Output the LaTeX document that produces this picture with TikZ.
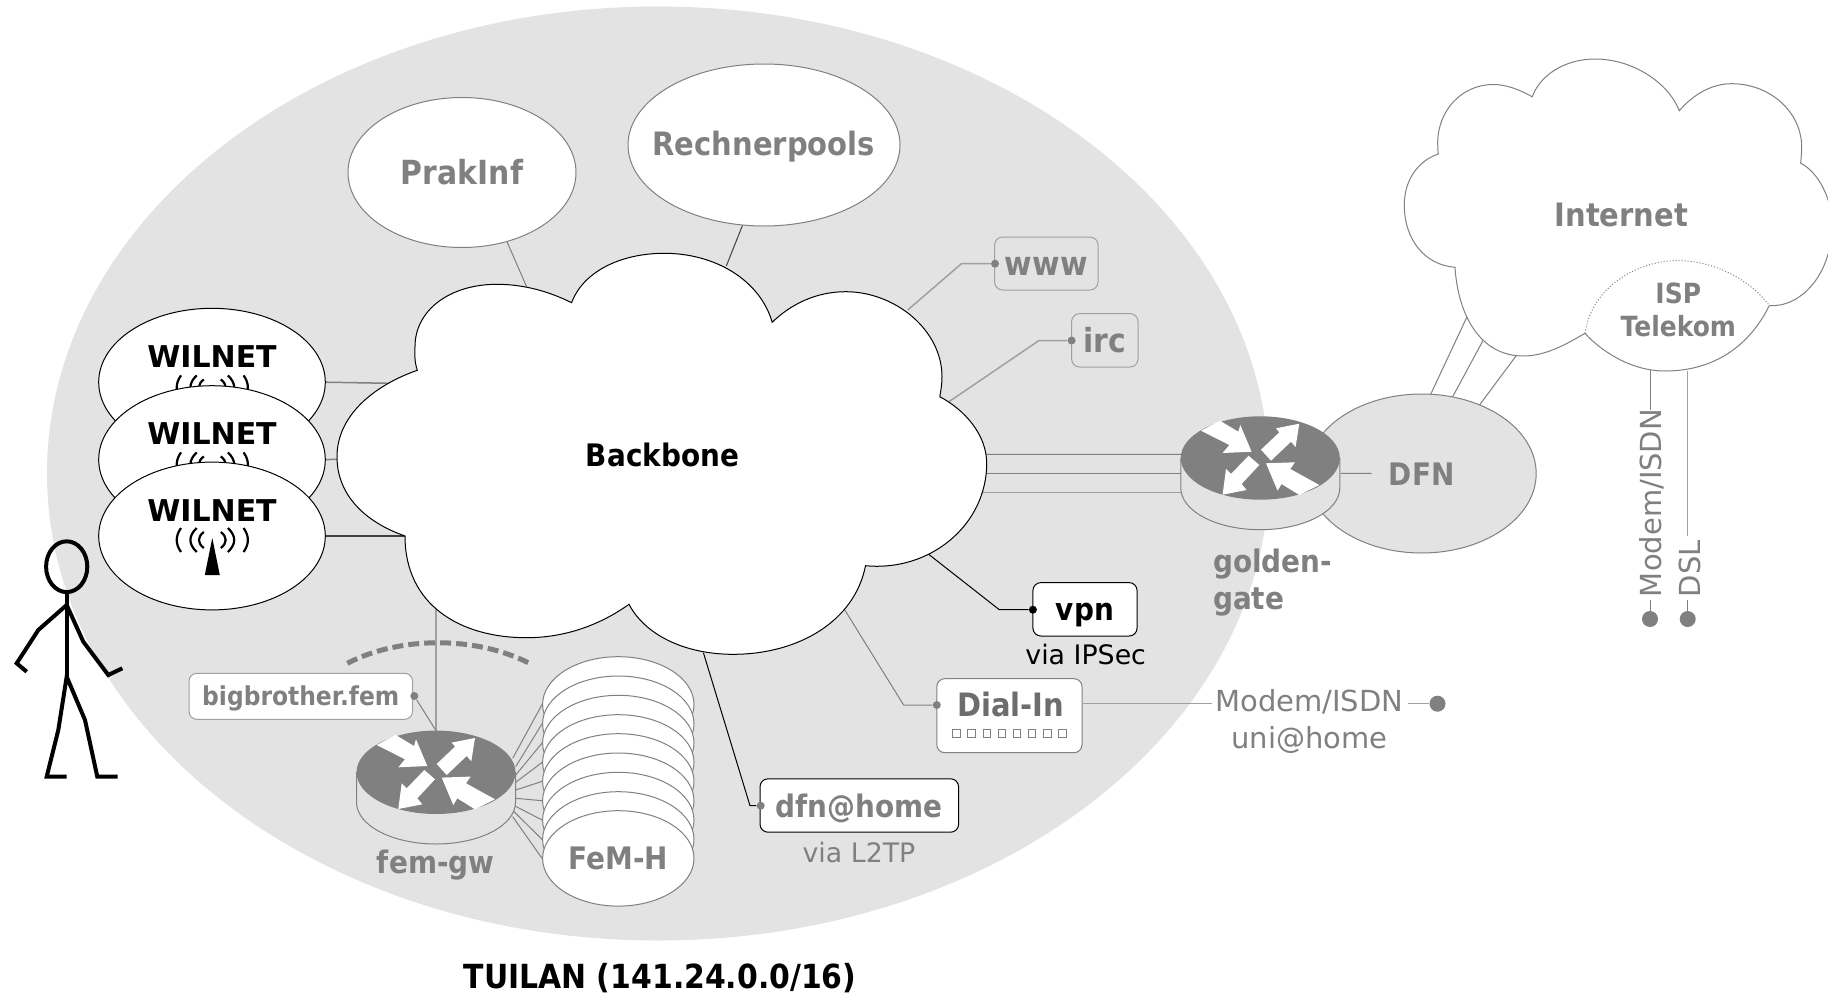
\documentclass[tikz,border=0pt]{standalone}
\usepackage{fontspec}
\setmainfont{DejaVu Sans}
\newfontfamily\cbf[FakeStretch=0.9]{DejaVu Sans Bold}
\usetikzlibrary{shapes.geometric,calc}
\definecolor{bgc}{HTML}{E3E3E3}
\definecolor{gr}{HTML}{808080}
\definecolor{lgr}{HTML}{A0A0A0}
\pgfdeclarelayer{backdrop}
\pgfdeclarelayer{lines}
\pgfsetlayers{backdrop,lines,main}
\newcommand{\fsz}[1]{\fontsize{#1pt}{#1pt}\selectfont}
\tikzset{
  x=.5pt,y=-.5pt,
  capbox/.style={inner sep=0pt,text depth=0pt,text height=#1,align=center},
  bt/.style={font=\cbf\fsz{#1},text=gr,inner sep=0pt,anchor=base},
  bk/.style={font=\cbf\fsz{#1},text=black,inner sep=0pt,anchor=base},
  wil/.style={font=\bfseries\fsz{15},text=black,inner sep=0pt,anchor=base},
  rt/.style={font=\fsz{#1},text=gr,inner sep=0pt,anchor=base},
  rt/.default=14.5,
  ell/.style={ellipse,inner sep=0pt,fill=white,draw=gr,line width=.5pt},
  bellip/.style={ellipse,inner sep=0pt,fill=white,draw=black,line width=.5pt},
  sbox/.style={rectangle,rounded corners=4pt,inner sep=0pt,fill=#1,draw=gr,line width=.5pt},
  conn/.style={draw=gr,line width=.5pt},
  lconn/.style={draw=lgr,line width=.75pt},
  kconn/.style={draw=black,line width=.5pt},
  dot/.style={circle,inner sep=0pt,minimum size=#1,fill=gr},
  kdot/.style={circle,inner sep=0pt,minimum size=#1,fill=black},
  pics/router/.style={code={
    \path[fill=bgc,draw=gr,line width=.5pt] (-79.5,0) -- (-79.5,30) .. controls (-79.5,53) and (-44,71.7) .. (0,71.7) .. controls (44,71.7) and (79.5,53) .. (79.5,30) -- (79.5,0) -- cycle;
    \fill[gr] (0,0) ellipse [x radius=39.75pt,y radius=20.85pt];
    \fill[white] (-59.3,-27.3) -- (-40.3,-37.3) -- (-22,-26.3) -- (-20,-33) -- (-8.7,-6.3) -- (-37.7,-5) -- (-31,-13) -- cycle;
    \fill[white] (0.7,-8.3) -- (19,-25.7) -- (15.7,-29.7) -- (39,-34.3) -- (35.3,-11) -- (30.7,-16.3) -- (10.7,2.7) -- cycle;
    \fill[white] (-1,7) -- (-11.7,-2.3) -- (-29.3,16) -- (-34.3,11) -- (-37.7,36.7) -- (-13.7,32) -- (-18.7,26) -- cycle;
    \fill[white] (59,27) -- (39,37) -- (21.3,26) -- (17.3,32.7) -- (5.7,5.3) -- (34.7,4.3) -- (30,11) -- cycle;
  }},
  pics/antenna/.style={code={
    \draw[black,line width=1.1pt] (-31.3,-12) .. controls (-37,-4) and (-37,4) .. (-31.3,12);
    \draw[black,line width=1.1pt] (-15.6,-12) .. controls (-24,-4) and (-24,4) .. (-15.6,12);
    \draw[black,line width=1.1pt] (-8.5,-8) .. controls (-15,-3) and (-15,3) .. (-8.5,8);
    \draw[black,line width=1.1pt] (31.3,-12) .. controls (37,-4) and (37,4) .. (31.3,12);
    \draw[black,line width=1.1pt] (15.6,-12) .. controls (24,-4) and (24,4) .. (15.6,12);
    \draw[black,line width=1.1pt] (8.5,-8) .. controls (15,-3) and (15,3) .. (8.5,8);
    \fill[black] (0,-2) -- (7.5,35) -- (-7.5,35) -- cycle;
  }},
}
\begin{document}
\begin{tikzpicture}
\useasboundingbox (0,0) rectangle (1828,996);
\clip (0,0) rectangle (1828,996);

% named connector ends on the clouds
\coordinate (bb-prak) at (526.6,286.7);
\coordinate (bb-rech) at (726.3,266);
\coordinate (bb-www) at (907.7,310);
\coordinate (bb-irc) at (949,401.7);
\coordinate (bb-w1) at (389,383.3);
\coordinate (bb-w2) at (337,459.3);
\coordinate (bb-w3) at (405,536);
\coordinate (bb-g1) at (986,454.3);
\coordinate (bb-g2) at (986,473.3);
\coordinate (bb-g3) at (983,492.5);
\coordinate (bb-vpn) at (927,553);
\coordinate (bb-dial) at (844.8,610);
\coordinate (bb-dfn) at (703.4,652.7);
\coordinate (bb-fem) at (436,603);
\coordinate (in-1) at (1467.3,316.2);
\coordinate (in-2) at (1483.3,340);
\coordinate (in-3) at (1516,356);
\coordinate (dfn-1) at (1430,395.7);
\coordinate (dfn-2) at (1451.7,398.5);
\coordinate (dfn-3) at (1479,405.7);
\coordinate (femgw) at (436,772.3);
\coordinate (gold) at (1260.3,458);

\begin{pgfonlayer}{backdrop}
\fill[white] (0,0) rectangle (1828,996);
\fill[bgc] (658,473.5) ellipse [x radius=305.5pt,y radius=233.5pt];
\end{pgfonlayer}

% Internet cloud
\path[fill=white,draw=gr,line width=.5pt]
 (1438.3,154) .. controls (1437.8,150) and (1437.7,147) .. (1437.7,143.3)
 .. controls (1437.7,110) and (1462,84.5) .. (1493.3,84.5)
 .. controls (1507,84.5) and (1520,90) .. (1532.3,96.8)
 .. controls (1540,75) and (1565,59) .. (1595,59)
 .. controls (1632,59) and (1668,82) .. (1679.3,110.7)
 .. controls (1692,96) and (1710,83.7) .. (1731.7,83.7)
 .. controls (1770,83.7) and (1801.7,112) .. (1801.7,147.3)
 .. controls (1801.7,153) and (1801,158) .. (1800.7,163.2)
 .. controls (1818,172) and (1832,198) .. (1832,225)
 .. controls (1832,275) and (1800,308) .. (1769.3,305.5)
 -- (1585,333.3)
 .. controls (1565,345) and (1545,356) .. (1523.3,356)
 .. controls (1480,356) and (1458,315) .. (1455,267.3)
 .. controls (1425,265) and (1404.3,240) .. (1404.3,205)
 .. controls (1404.3,178) and (1420,160) .. (1438.3,154) -- cycle;
\node[bt=16.1] (internet) at (1621.3,226) {Internet};

% ISP
\fill[white] (1585,333.3) .. controls (1592,285) and (1640,260.6) .. (1677,260.6) .. controls (1715,260.6) and (1750,280) .. (1769.3,305.5) .. controls (1750,345) and (1715,371) .. (1665,371) .. controls (1630,371) and (1600,350) .. (1585,333.3) -- cycle;
\draw[gr,line width=.5pt,densely dotted] (1585,333.3) .. controls (1592,285) and (1640,260.6) .. (1677,260.6) .. controls (1715,260.6) and (1750,280) .. (1769.3,305.5);
\draw[gr,line width=.5pt] (1769.3,305.5) .. controls (1750,345) and (1715,371) .. (1665,371) .. controls (1630,371) and (1600,350) .. (1585,333.3);
\node[font=\cbf\fsz{13.9},text=gr,inner sep=0pt,align=center] (isp) at (1678.3,309.7) {ISP\\[2.4pt]Telekom};
\coordinate (isp-m) at (1650,369.5);
\coordinate (isp-d) at (1687.7,370.5);

% DFN
\node[ell,fill=bgc,minimum width=114.5pt,minimum height=79.5pt,capbox=11.5pt,font=\cbf\fsz{15.5},text=gr] (dfn) at (1421.7,473.5) {DFN};

% Backbone
\path[fill=white,draw=black,line width=.5pt]
 (417.3,370.3) .. controls (414,360) and (415,353) .. (415,346.7)
 .. controls (415,310) and (450,284.3) .. (496.8,284.3)
 .. controls (525,284.3) and (550,292) .. (571.6,302.7)
 .. controls (583,272) and (620,253.3) .. (664.4,253.3)
 .. controls (715,253.3) and (760,280) .. (772.2,322.3)
 .. controls (790,305) and (815,291.7) .. (845.7,291.7)
 .. controls (895,291.7) and (942,330) .. (942,376.7)
 .. controls (942,384) and (941,390) .. (939.8,396.7)
 .. controls (965,410) and (986.7,435) .. (986.7,463.3)
 .. controls (986.7,525) and (930,572) .. (865.5,565.7)
 .. controls (855,620) and (800,654.3) .. (733,654.3)
 .. controls (685,654.3) and (645,635) .. (629,604.3)
 .. controls (600,625) and (565,637.7) .. (526.6,637.7)
 .. controls (460,637.7) and (405,605) .. (405,536)
 .. controls (365,522) and (337,495) .. (337,456.7)
 .. controls (337,415) and (375,385) .. (417.3,370.3) -- cycle;
\node[bk=15.5] (backbone) at (662.5,466) {Backbone};

% upper ellipses
\node[ell,minimum width=114pt,minimum height=75pt,capbox=11.5pt,font=\cbf\fsz{16.6},text=gr] (prak) at (462,172.5) {PrakInf};
\node[ell,minimum width=136pt,minimum height=81pt] (rech) at (764,145) {};
\node[bt=16.1] (recht) at (763.7,155.5) {Rechnerpools};

% WILNET stack
\node[bellip,minimum width=113.3pt,minimum height=73.9pt] (w1) at (212,382.2) {};
\node[wil] (w1t) at (212,367.3) {WILNET};
\pic at (212.3,387.4) {antenna};
\node[bellip,minimum width=113.3pt,minimum height=73.9pt] (w2) at (212,459.6) {};
\node[wil] (w2t) at (212,444) {WILNET};
\pic at (212.3,464.4) {antenna};
\node[bellip,minimum width=113.3pt,minimum height=73.9pt] (w3) at (212,536) {};
\node[wil] (w3t) at (212,521.7) {WILNET};
\pic at (212.3,540) {antenna};

% person
\draw[black,line width=2pt] (66.7,566.7) ellipse [x radius=10.3pt,y radius=12.7pt];
\draw[black,line width=2pt] (66.7,594) -- (66.7,676.7);
\draw[black,line width=2pt] (26.7,671.7) -- (16.7,663.3) -- (38.3,630) -- (66.7,605) -- (83.3,641.7) -- (108.3,675) -- (122.3,668.3);
\draw[black,line width=2pt] (66.7,776.7) -- (46.7,776.7) -- (58.3,730) -- (66.7,676.7) -- (85,720) -- (97.3,776.7) -- (117.7,776.7);

% service boxes
\node[sbox=bgc,minimum width=51.7pt,minimum height=26.5pt,capbox=11.5pt,font=\cbf\fsz{16.6},text=gr,draw=lgr] (www) at (1046.3,263.5) {www};
\node[sbox=bgc,minimum width=33.2pt,minimum height=26.7pt,capbox=12pt,font=\cbf\fsz{16.6},text=gr,draw=lgr] (irc) at (1104.8,340.3) {irc};
\node[sbox=white,draw=black,minimum width=52.1pt,minimum height=26.7pt,capbox=10.7pt,font=\cbf\fsz{15.5},text=black] (vpn) at (1085,609.3) {vpn};
\node[rt=13.4,text=black] (vpnt) at (1085.7,664.5) {via IPSec};
\node[sbox=white,minimum width=72.6pt,minimum height=37pt] (dial) at (1009.4,715.7) {};
\node[bt=16.1,text=gr!85!black] (dialt) at (1010.7,716.5) {Dial-In};
\foreach \i in {0,...,7}
  \node[rectangle,draw=gr,line width=.4pt,fill=white,minimum size=3.8pt,inner sep=0pt] (sq\i) at ({956.5+15.1*\i},733.3) {};
\node[sbox=white,draw=black,minimum width=99.3pt,minimum height=26.7pt,capbox=11.8pt,font=\cbf\fsz{15.5},text=gr] (dfnh) at (859.3,805.5) {dfn@home};
\node[rt=13.4] (dfnht) at (859,862) {via L2TP};
\node[sbox=white,draw=lgr,minimum width=111.8pt,minimum height=23pt,capbox=9pt,font=\cbf\fsz{13},text=gr] (bb) at (300.8,696.3) {bigbrother.fem};

% dots
\node[kdot=4pt] (dvpn) at (1032.9,609.7) {};
\node[dot=4pt] (dwww) at (995,263.7) {};
\node[dot=4pt] (dirc) at (1071.6,340.5) {};
\node[dot=4pt] (ddial) at (936.8,705) {};
\node[dot=4pt] (ddfnh) at (760.7,805.7) {};
\node[dot=4pt] (dbb) at (414.3,696) {};
\node[dot=8pt] (dm1) at (1650,619) {};
\node[dot=8pt] (dm2) at (1687.7,619) {};
\node[dot=8pt] (dm3) at (1437.5,703.7) {};

% labels on the right
\node[rt] (mh) at (1309.3,711.7) {Modem/ISDN};
\node[rt] (uni) at (1309.6,748) {uni@home};
\node[rt,rotate=90] (mv) at (1661.7,503) {Modem/ISDN};
\node[rt,rotate=90] (dv) at (1700,568.6) {DSL};
\coordinate (mv-top) at (1650,409.6);
\coordinate (mv-bot) at (1650,600.4);
\coordinate (dv-top) at (1687.7,536);
\coordinate (dv-bot) at (1687.7,600.4);
\coordinate (mh-l) at (1211.8,703.7);
\coordinate (mh-r) at (1407.9,703.7);

% FeM-H stack
\foreach \n/\y in {1/704.4,2/723.7,3/743,4/762.4,5/781.4,6/800.7,7/820,8/839.4,9/858.4}
  \node[ell,minimum width=75.7pt,minimum height=47.7pt] (st\n) at (618.3,\y) {};
\node[bt=15.5] (femh) at (618.3,869) {FeM-H};

% routers
\pic at (femgw) {router};
\pic at (gold) {router};
\node[bt=15.5] (femt) at (435.7,873) {fem-gw};
\node[font=\cbf\fsz{15.5},text=gr,inner sep=0pt,align=left,anchor=base west] (goldt) at (1212.7,609.3) {golden-\\[2.8pt]gate};

% arc
\draw[gr,line width=2.5pt,dash pattern=on 5.5pt off 2.5pt] (347.3,663.3) .. controls (400,636) and (475,636) .. (528.3,662.7);

\node[bk=16.6] (tuilan) at (660,988) {TUILAN (141.24.0.0/16)};

% stub gateway to DFN
\draw[conn] ([shift={(80.5,15.3)}]gold) -- ([shift={(-50,0)}]dfn.center);

% connectors below the shapes
\begin{pgfonlayer}{lines}
\draw[conn] (prak.-57.5) -- (bb-prak);
\draw[kconn,draw=gr!50!black] (rech.-105.7) -- (bb-rech);
\draw[lconn] (bb-www) -- (961.4,263.7) -- (dwww);
\draw[lconn] (bb-irc) -- (1039,340.5) -- (dirc);
\draw[conn,line width=.75pt] (w1.east) -- (bb-w1);
\draw[conn,line width=.75pt] (w2.east) -- (bb-w2);
\draw[kconn,draw=gr!50!black,line width=.75pt] (w3.east) -- (bb-w3);
\draw[conn] (bb-g1) -- ([shift={(-79.5,-3.7)}]gold);
\draw[conn] (bb-g2) -- ([shift={(-79.5,15.3)}]gold);
\draw[lconn] (bb-g3) -- ([shift={(-79.5,34.5)}]gold);
\draw[kconn] (bb-vpn) -- (999.3,609.7) -- (dvpn);
\draw[conn] (bb-dial) -- (903.6,705) -- (ddial);
\draw[kconn] (bb-dfn) -- (750,805.7) -- (ddfnh);
\draw[lconn] (bb-fem) -- ([shift={(0,-41.7)}]femgw);
\draw[conn] (dbb) -- ([shift={(0,-41.7)}]femgw);
\draw[conn] (dfn-1) -- (in-1);
\draw[conn] (dfn-2) -- (in-2);
\draw[conn] (dfn-3) -- (in-3);
\draw[conn] (isp-m) -- (mv-top);
\draw[conn] (mv-bot) -- (dm1);
\draw[lconn] (isp-d) -- (dv-top);
\draw[conn] (dv-bot) -- (dm2);
\draw[lconn] (dial.east |- mh-l) -- (mh-l);
\draw[lconn] (mh-r) -- (dm3);
\foreach \n/\dx/\dy in {1/76.7/-14,2/79.7/-5.6,3/79.7/2.7,4/79.7/10,5/79.7/17.7,6/79.7/26,7/79/33.7,8/78/39.4,9/76.7/44.4}
  \draw[conn] ([shift={(\dx,\dy)}]femgw) -- (st\n.west);
\end{pgfonlayer}
\end{tikzpicture}
\end{document}
